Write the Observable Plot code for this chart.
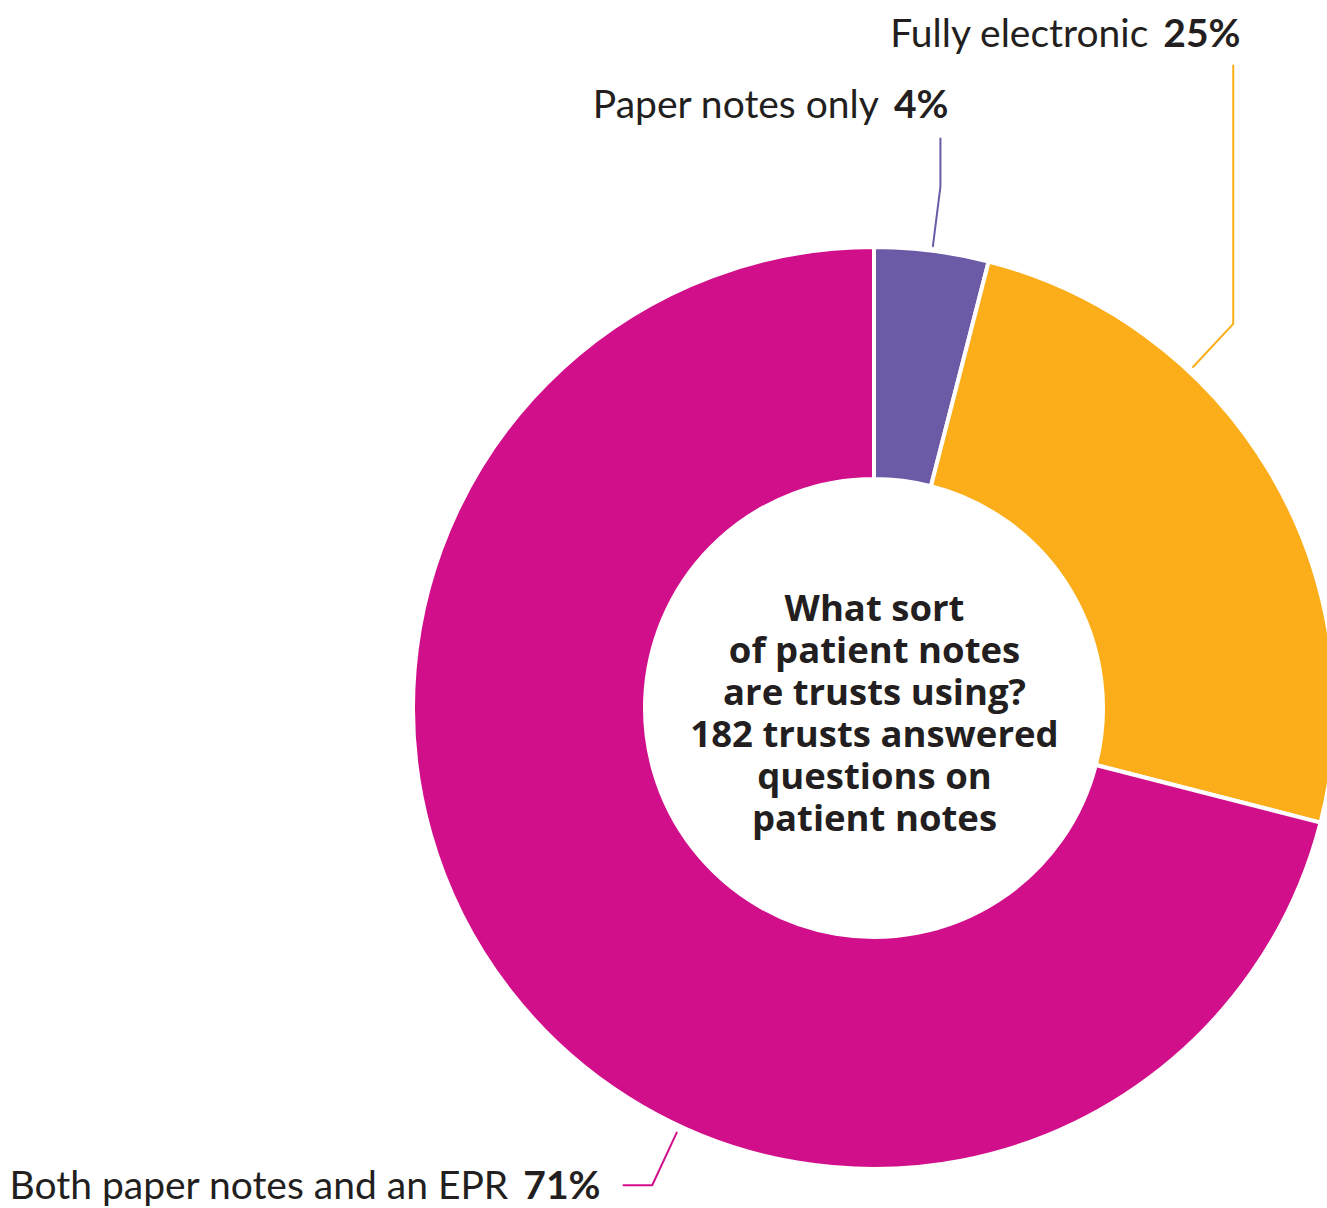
<!DOCTYPE html>
<html>
<head>
<meta charset="utf-8">
<script src="https://cdn.jsdelivr.net/npm/d3@7"></script>
<script src="https://cdn.jsdelivr.net/npm/@observablehq/plot@0.6"></script>
<style>
  html, body { margin: 0; padding: 0; background: #ffffff; }
  #chart svg { display: block; }
</style>
</head>
<body>
<div id="chart"></div>
<script>
// ---------------- data ----------------
const categories = ["Paper notes only", "Fully electronic", "Both paper notes and an EPR"];
const percents = [4, 25, 71];
const percentLabels = ["4%", "25%", "71%"];
const colors = ["#6b5aa6", "#fbae19", "#d20f8b"];
const centerTitle = "What sort\nof patient notes\nare trusts using?\n182 trusts answered\nquestions on\npatient notes";

// ---------------- layout ----------------
const W = 1327, H = 1208;
const cx = 874, cy = 708, rOuter = 461, rInner = 229;
const FONT = "Lato, 'Open Sans', sans-serif";
const CENTER_FONT = "'Open Sans', Lato, sans-serif";
const labelSize = 39, centerSize = 36.5;
const textColor = "#231f20";
// leader: angle in degrees (null = middle of slice), radial part then a straight run to the label
const leaders = [
  {angle: null, r0: 466, r1: 526, dir: "v", to: 138, textX: 948, textY: 117},
  {angle: 43,   r0: 467, r1: 526, dir: "v", to: 65,  textX: 1240, textY: 46},
  {angle: 205,  r0: 468, r1: 526, dir: "h", to: 623, textX: 600, textY: 1198}
];

const data = categories.map((c, i) => ({category: c, value: percents[i], label: percentLabels[i]}));
const pie = d3.pie().sort(null).value(d => d.value).startAngle(0).endAngle(2 * Math.PI);
const arcs = pie(data);
const colorScale = Plot.scale({color: {type: "ordinal", domain: categories, range: colors}});

// measure text
const ctx = document.createElement("canvas").getContext("2d");
function measure(txt, weight) {
  ctx.font = `${weight} ${labelSize}px ${FONT}`;
  return ctx.measureText(txt).width;
}

// leader line points
const leaderPts = [];
arcs.forEach((a, i) => {
  const L = leaders[i];
  const ang = (L.angle == null ? (a.startAngle + a.endAngle) / 2 : L.angle * Math.PI / 180);
  const p0 = [cx + L.r0 * Math.sin(ang), cy - L.r0 * Math.cos(ang)];
  const p1 = [cx + L.r1 * Math.sin(ang), cy - L.r1 * Math.cos(ang)];
  const p2 = L.dir === "v" ? [p1[0], L.to] : [L.to, p1[1]];
  [p0, p1, p2].forEach(p => leaderPts.push({category: a.data.category, x: p[0], y: p[1]}));
});

// label pieces (category in regular weight, percentage in bold, right-aligned at textX)
const gap = 15;
const labelsNormal = [], labelsBold = [];
arcs.forEach((a, i) => {
  const L = leaders[i];
  const bw = measure(a.data.label, "bold");
  labelsBold.push({text: a.data.label, x: L.textX, y: L.textY});
  labelsNormal.push({text: a.data.category, x: L.textX - bw - gap, y: L.textY});
});

// donut render mark
const arcGen = d3.arc().innerRadius(rInner).outerRadius(rOuter);
function donutMark(index, scales) {
  const g = d3.create("svg:g").attr("transform", `translate(${cx},${cy})`);
  g.selectAll("path").data(arcs).join("path")
    .attr("d", arcGen)
    .attr("fill", d => colorScale.apply(d.data.category))
    .attr("stroke", "#ffffff")
    .attr("stroke-width", 4)
    .attr("stroke-linejoin", "round");
  return g.node();
}

const chart = Plot.plot({
  width: W,
  height: H,
  margin: 0,
  style: {fontFamily: FONT, background: "#ffffff", overflow: "visible"},
  x: {type: "identity", axis: null},
  y: {type: "identity", axis: null},
  color: {domain: categories, range: colors},
  marks: [
    donutMark,
    Plot.line(leaderPts, {x: "x", y: "y", z: "category", stroke: "category", strokeWidth: 2, curve: "linear"}),
    Plot.text(labelsNormal, {x: "x", y: "y", text: "text", textAnchor: "end", lineAnchor: "bottom", fontSize: labelSize, fontWeight: "normal", fill: textColor}),
    Plot.text(labelsBold, {x: "x", y: "y", text: "text", textAnchor: "end", lineAnchor: "bottom", fontSize: labelSize, fontWeight: "bold", fill: textColor}),
    Plot.text([centerTitle], {x: () => cx, y: () => cy, text: d => d, textAnchor: "middle", lineAnchor: "middle", lineHeight: 42 / centerSize, fontSize: centerSize, fontWeight: "bold", fontFamily: CENTER_FONT, fill: textColor, dy: 4})
  ]
});
document.getElementById("chart").appendChild(chart);
</script>
</body>
</html>
